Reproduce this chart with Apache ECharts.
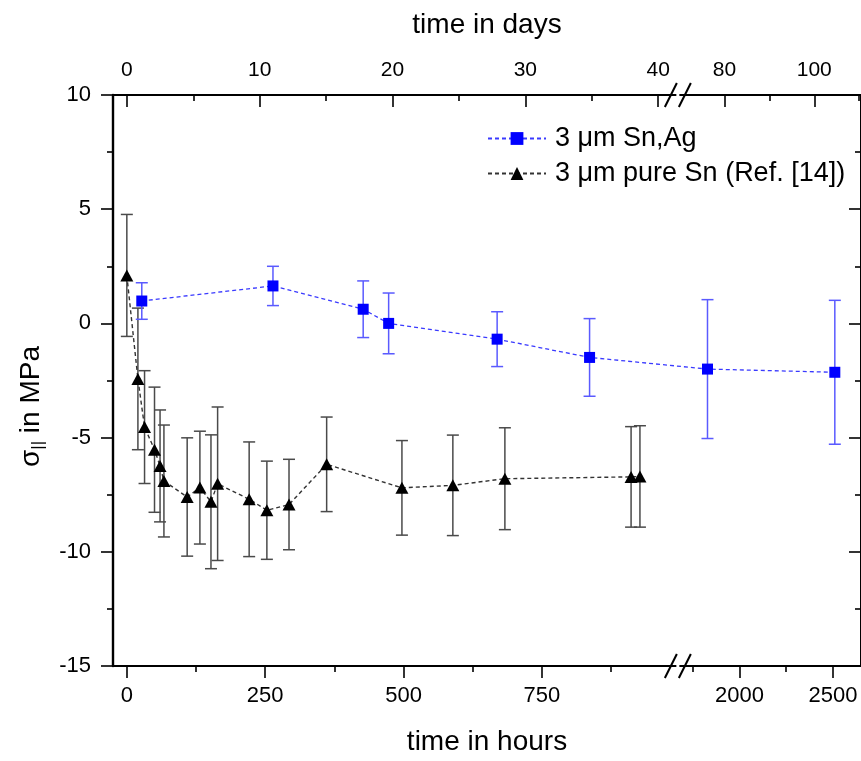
<!DOCTYPE html>
<html>
<head>
<meta charset="utf-8">
<script src="https://cdn.jsdelivr.net/npm/echarts@6/dist/echarts.min.js"></script>
<style>html,body{margin:0;padding:0;background:#fff;}#chart{width:861px;height:761px;}</style>
</head>
<body>
<div id="chart"></div>
<script>
// ---- data (time in hours, stress in MPa, symmetric error) ----
const hoursSnAg  = [27, 264, 427, 473, 669, 836, 1829, 2510];
const stressSnAg = [0.98, 1.64, 0.62, 0.0, -0.69, -1.49, -2.0, -2.14];
const errSnAg    = [0.8, 0.86, 1.24, 1.33, 1.2, 1.7, 3.04, 3.15];

const hoursSn  = [0, 20, 32, 50, 60, 67, 109, 132, 152, 164, 221, 253, 293, 361, 497, 589, 683, 911, 927];
const stressSn = [2.1, -2.43, -4.54, -5.53, -6.24, -6.9, -7.6, -7.19, -7.81, -7.02, -7.7, -8.18, -7.93, -6.17, -7.2, -7.09, -6.8, -6.72, -6.7];
const errSn    = [2.67, 3.1, 2.47, 2.74, 2.45, 2.45, 2.59, 2.47, 2.93, 3.36, 2.51, 2.15, 1.98, 2.07, 2.07, 2.2, 2.23, 2.2, 2.22];

// tick values
const hourMajor = [0, 250, 500, 750, 2000, 2500];
const hourMinor = [125, 375, 625, 875, 1750, 2250];
const dayMajor  = [0, 10, 20, 30, 40, 80, 100];
const dayMinor  = [5, 15, 25, 35, 90, 110];

const seriesNames = ['3 \u03bcm Sn,Ag', '3 \u03bcm pure Sn (Ref. [14])'];

// ---- broken axis scale: two linear segments ----
const H_MIN = -25, BREAK_LO = 995, BREAK_HI = 1669, H_MAX = 2650;
const RATIO = 0.3378; // right-segment scale relative to left
function toAxis(h) { return h <= BREAK_LO ? h : BREAK_LO + (h - BREAK_HI) * RATIO; }
function fromAxis(u) { return u <= BREAK_LO + 1e-6 ? u : BREAK_HI + (u - BREAK_LO) / RATIO; }

const FONT = '"Liberation Sans", Arial, sans-serif';

function pts(hs, vs) { return hs.map((h, i) => [toAxis(h), vs[i]]); }
function errPts(hs, vs, es) { return hs.map((h, i) => [toAxis(h), vs[i], es[i]]); }

function errRender(color) {
  return function (params, api) {
    const x = api.value(0), y = api.value(1), e = api.value(2);
    const t = api.coord([x, y + e]), b = api.coord([x, y - e]);
    const hw = 6;
    const st = { stroke: color, lineWidth: 1.5 };
    return { type: 'group', children: [
      { type: 'line', shape: { x1: t[0], y1: t[1], x2: b[0], y2: b[1] }, style: st },
      { type: 'line', shape: { x1: t[0] - hw, y1: t[1], x2: t[0] + hw, y2: t[1] }, style: st },
      { type: 'line', shape: { x1: b[0] - hw, y1: b[1], x2: b[0] + hw, y2: b[1] }, style: st }
    ]};
  };
}

const axisLineStyle = { color: '#000', width: 2 };
const tickStyle = { color: '#000', width: 1.6 };
const xMin = toAxis(H_MIN), xMax = toAxis(H_MAX);

function xAxisBase(pos, inside, len, tickVals, showLine, extra) {
  return Object.assign({
    type: 'value', position: pos, min: xMin, max: xMax, gridIndex: 0,
    axisLine: { show: showLine, lineStyle: axisLineStyle, onZero: false },
    axisTick: { show: true, inside: inside, length: len, lineStyle: tickStyle, customValues: tickVals },
    axisLabel: { show: false },
    splitLine: { show: false }
  }, extra || {});
}

const chart = echarts.init(document.getElementById('chart'), null, { renderer: 'canvas' });

const option = {
  animation: false,
  backgroundColor: '#fff',
  grid: { left: 113, top: 95, width: 750, height: 573, containLabel: false },
  legend: {
    orient: 'vertical', left: 482, top: 119,
    itemWidth: 58, itemHeight: 16, itemGap: 6,
    textStyle: { fontFamily: FONT, fontSize: 27, color: '#000', padding: [0, 0, 0, 4], lineHeight: 29 },
    data: seriesNames
  },
  xAxis: [
    xAxisBase('bottom', false, 12, hourMajor.map(toAxis), true, {
      name: 'time in hours', nameLocation: 'middle', nameGap: 62,
      nameTextStyle: { fontFamily: FONT, fontSize: 28, color: '#000' },
      axisLabel: { show: true, customValues: hourMajor.map(toAxis), margin: 19,
        fontFamily: FONT, fontSize: 22, color: '#000',
        formatter: v => String(Math.round(fromAxis(v))) }
    }),
    xAxisBase('bottom', false, 6, hourMinor.map(toAxis), false),
    xAxisBase('top', true, 12, dayMajor.map(d => toAxis(d * 24)), true, {
      name: 'time in days', nameLocation: 'middle', nameGap: 56,
      nameTextStyle: { fontFamily: FONT, fontSize: 28, color: '#000' },
      axisLabel: { show: true, customValues: dayMajor.map(d => toAxis(d * 24)), margin: 14,
        fontFamily: FONT, fontSize: 21, color: '#000',
        formatter: v => String(Math.round(fromAxis(v) / 24)) }
    }),
    xAxisBase('top', true, 6, dayMinor.map(d => toAxis(d * 24)), false)
  ],
  yAxis: [
    {
      type: 'value', position: 'left', min: -15, max: 10, interval: 5,
      axisLine: { show: true, lineStyle: { color: '#000', width: 2.4 }, onZero: false },
      axisTick: { show: true, inside: false, length: 12, lineStyle: tickStyle },
      minorTick: { show: true, splitNumber: 2, length: 6, lineStyle: tickStyle },
      axisLabel: { margin: 22, fontFamily: FONT, fontSize: 22, color: '#000' },
      splitLine: { show: false }, minorSplitLine: { show: false },
      name: '\u03c3{sub|||} in MPa', nameLocation: 'middle', nameGap: 66, nameRotate: 90,
      nameTextStyle: { fontFamily: FONT, fontSize: 28, color: '#000', padding: [0, 52, 0, 0],
        rich: { sub: { fontFamily: FONT, fontSize: 17, color: '#000', padding: [14, 0, 0, 0] } } }
    },
    {
      type: 'value', position: 'right', min: -15, max: 10, interval: 5,
      axisLine: { show: true, lineStyle: axisLineStyle, onZero: false },
      axisTick: { show: true, inside: true, length: 12, lineStyle: tickStyle },
      minorTick: { show: true, splitNumber: 2, length: 6, lineStyle: tickStyle },
      axisLabel: { show: false },
      splitLine: { show: false }, minorSplitLine: { show: false }
    }
  ],
  series: [
    {
      type: 'custom', name: 'errSn', xAxisIndex: 0, yAxisIndex: 0, z: 2,
      renderItem: errRender('#4a4a4a'), encode: { x: 0, y: 1 },
      data: errPts(hoursSn, stressSn, errSn), silent: true
    },
    {
      type: 'custom', name: 'errSnAg', xAxisIndex: 0, yAxisIndex: 0, z: 2,
      renderItem: errRender('#5a5aff'), encode: { x: 0, y: 1 },
      data: errPts(hoursSnAg, stressSnAg, errSnAg), silent: true
    },
    {
      type: 'line', name: seriesNames[1], xAxisIndex: 0, yAxisIndex: 0, z: 3,
      data: pts(hoursSn, stressSn),
      symbol: 'triangle', symbolSize: [13, 12],
      itemStyle: { color: '#000' },
      lineStyle: { color: '#333', width: 1.4, type: [4, 3] }
    },
    {
      type: 'line', name: seriesNames[0], xAxisIndex: 0, yAxisIndex: 0, z: 4,
      data: pts(hoursSnAg, stressSnAg),
      symbol: 'rect', symbolSize: 11,
      itemStyle: { color: '#0000ff' },
      lineStyle: { color: '#3a3aff', width: 1.3, type: [4, 3] }
    }
  ]
};
chart.setOption(option);

// axis-break marks (//) at the top and bottom axes
function drawBreaks() {
  const bx = chart.convertToPixel({ xAxisIndex: 0 }, BREAK_LO + 0.5);
  const yTop = chart.convertToPixel({ yAxisIndex: 0 }, 10);
  const yBot = chart.convertToPixel({ yAxisIndex: 0 }, -15);
  const els = [];
  [yTop, yBot].forEach(y0 => {
    els.push({ type: 'rect', shape: { x: bx - 1.5, y: y0 - 3, width: 3, height: 6 }, style: { fill: '#fff' }, z: 100 });
    [-7, 7].forEach(off => {
      els.push({ type: 'line', shape: { x1: bx + off - 6, y1: y0 + 12, x2: bx + off + 6, y2: y0 - 12 },
        style: { stroke: '#000', lineWidth: 2 }, z: 101 });
    });
  });
  chart.setOption({ graphic: els });
}
drawBreaks();
</script>
</body>
</html>
